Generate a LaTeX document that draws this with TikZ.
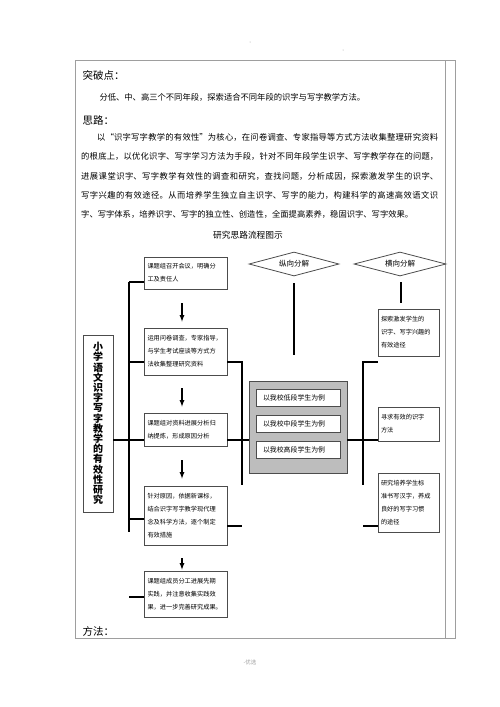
\documentclass[tikz,border=0pt]{standalone}
\usepackage{fontspec}
\setmainfont{Noto Sans CJK SC}
\usetikzlibrary{arrows}
\usetikzlibrary{shapes.geometric}
\usetikzlibrary{positioning}
\definecolor{mframe}{rgb}{0.62, 0.62, 0.62}
\definecolor{mline}{rgb}{0.3, 0.3, 0.3}
\definecolor{mfill}{rgb}{0.74, 0.74, 0.74}
\XeTeXlinebreaklocale "zh"
\XeTeXlinebreakskip=0pt plus 2pt
\tikzset{
  stepbox/.style={draw=mline, line width=0.8pt, text width=76pt, inner xsep=3.5pt, inner ysep=0pt, align=left, font=\fontsize{6.2}{13}\selectfont},
  sidebox/.style={draw=mline, line width=0.8pt, text width=55pt, inner xsep=3pt, inner ysep=0pt, align=left, font=\fontsize{6.2}{13}\selectfont},
  casebox/.style={draw=mline, line width=0.8pt, fill=white, minimum height=17pt, text width=70pt, inner xsep=7pt, inner ysep=0pt, align=left, font=\fontsize{6.9}{8}\selectfont},
  splitnode/.style={diamond, draw=mline, line width=0.8pt, aspect=3.75, inner sep=0pt, font=\fontsize{7.5}{8}\selectfont},
  link/.style={line width=1.3pt},
  flow/.style={-latex, line width=1.2pt},
  heading/.style={anchor=west, font=\fontsize{10.5}{12}\selectfont}
}

\begin{document}
\begin{tikzpicture}[x=1pt, y=-1pt]
  \useasboundingbox (0, 0) rectangle (500, 707);

  % page frame
  \draw [mframe, line width=0.9pt] (75, 60) rectangle (455, 638);
  \draw [mframe, line width=0.9pt] (445.5, 60) -- (445.5, 638);
  \fill [mframe] (250, 42) circle (0.5);
  \fill [mframe] (343, 50) circle (0.5);

  % text above the chart
  \node [heading] (tupo) at (79, 75) {突破点：};
  \node [anchor=west, font=\fontsize{8.3}{10}\selectfont] (tupotext) at (96, 97) {分低、中、高三个不同年段，探索适合不同年段的识字与写字教学方法。};
  \node [heading] (silu) at (79, 120) {思路：};
  \node [anchor=north west, inner sep=0pt, text width=357pt, align=justify, font=\fontsize{8.3}{19.4}\selectfont] (silutext) at (81, 133)
    {\parfillskip=0pt\hspace*{16pt}以“识字写字教学的有效性”为核心，在问卷调查、专家指导等方式方法收集整理研究资料\linebreak
     的根底上，以优化识字、写字学习方法为手段，针对不同年段学生识字、写字教学存在的问题，\linebreak
     进展课堂识字、写字教学有效性的调查和研究，查找问题，分析成因，探索激发学生的识字、\linebreak
     写字兴趣的有效途径。从而培养学生独立自主识字、写字的能力，构建科学的高速高效语文识\linebreak
     字、写字体系，培养识字、写字的独立性、创造性，全面提高素养，稳固识字、写字效果。};
  \node [font=\fontsize{8.7}{10}\selectfont] (title) at (248, 235) {研究思路流程图示};

  % left column
  \node [draw=mline, line width=0.8pt, minimum width=30pt, minimum height=177pt, text width=11pt, inner sep=0pt, align=center, font=\fontsize{10}{10.2}\selectfont\bfseries] (topic) at (98, 423.5)
    {小\\学\\语\\文\\识\\字\\写\\字\\教\\学\\的\\有\\效\\性\\研\\究};
  \node [stepbox, minimum height=32pt] (b1) at (185.5, 273) {课题组召开会议，明确分\\工及责任人};
  \node [stepbox, minimum height=47pt] (b2) at (185.5, 351.5) {运用问卷调查，专家指导，\\与学生考试座谈等方式方\\法收集整理研究资料};
  \node [stepbox, minimum height=33pt] (b3) at (185.5, 429.5) {课题组对资料进展分析归\\纳提炼，形成原因分析};
  \node [stepbox, minimum height=59pt] (b4) at (185.5, 515.5) {针对原因，依据新课标，\\结合识字写字教学现代理\\念及科学方法，逐个制定\\有效措施};
  \node [stepbox, minimum height=46pt] (b5) at (185.5, 594) {课题组成员分工进展先期\\实践，并注意收集实践效\\果，进一步完善研究成果。};

  \draw [flow] ([xshift=-3.5pt, yshift=-14pt]b1.south) -- ([xshift=-3.5pt, yshift=6pt]b2.north);
  \draw [flow] ([xshift=-3.5pt, yshift=-13pt]b2.south) -- ([xshift=-3.5pt, yshift=6pt]b3.north);
  \draw [flow] ([xshift=-3.5pt, yshift=-14pt]b3.south) -- ([xshift=-3.5pt, yshift=7pt]b4.north);
  \draw [flow] ([xshift=-3.5pt, yshift=-13pt]b4.south) -- ([xshift=-3.5pt, yshift=1pt]b5.north);

  % spine
  \coordinate (sTop) at (129, 282);
  \coordinate (sBot) at (129, 532);
  \coordinate (j2) at (129, 362);
  \coordinate (j3) at (113, 440);
  \coordinate (j4) at (129, 519);
  \coordinate (j5) at (129, 597);
  \draw [link] (sTop) -- (sBot);
  \draw [link] (sTop) -- (sTop -| b1.west);
  \draw [link] (j2) -- (j2 -| b2.west);
  \draw [link] (j3) -- (j3 -| b3.west);
  \draw [link] (j4) -- (j4 -| b4.west);
  \draw [link] (j5) -- (j5 -| b5.west);

  % middle column
  \node [splitnode, minimum width=90pt, minimum height=24pt] (d1) at (294, 264) {纵向分解};
  \node [splitnode, minimum width=92pt, minimum height=24pt] (d2) at (400, 264) {横向分解};
  \node [draw=mline, line width=0.8pt, fill=mfill, minimum width=98pt, minimum height=92pt, inner sep=0pt] (grp) at (298, 427) {};
  \node [casebox] (low) at (298, 397.5) {以我校低段学生为例};
  \node [casebox] (mid) at (298, 424) {以我校中段学生为例};
  \node [casebox] (high) at (298, 450) {以我校高段学生为例};

  \coordinate (d1s) at (294, 283);
  \coordinate (d1e) at (294, 355);
  \draw [link] (d1s) -- (d1e);

  \coordinate (r2) at (242, 362);
  \coordinate (rBot) at (242, 485);
  \coordinate (r3) at (242, 440);
  \coordinate (r4) at (242, 526);
  \draw [link] (b2.east |- r2) -- (r2) -- (rBot);
  \draw [link] (b3.east |- r3) -- (r3 -| grp.west);
  \draw [link] (b4.east |- r4) -- (r4);

  % right column
  \node [sidebox, minimum height=47pt] (h1) at (408.5, 332.5) {探索激发学生的\\识字、写字兴趣的\\有效途径};
  \node [sidebox, minimum height=34pt] (h2) at (408.5, 424) {寻求有效的识字\\方法};
  \node [sidebox, minimum height=59pt] (h3) at (408.5, 502.5) {研究培养学生标\\准书写汉字，养成\\良好的写字习惯\\的途径};

  \coordinate (d2s) at (401, 282);
  \coordinate (d2e) at (401, 303);
  \draw [link] (d2s) -- (d2e);

  \coordinate (q1) at (363, 362);
  \coordinate (qBot) at (363, 485);
  \coordinate (q4) at (363, 526);
  \draw [link] (q1 -| h1.west) -- (q1) -- (qBot);
  \draw [link] (grp.east |- r3) -- (r3 -| h2.west);
  \draw [link] (q4) -- (q4 -| h3.west);

  % bottom
  \node [heading] (fangfa) at (79, 631) {方法：};
  \node [mframe, font=\fontsize{5.5}{6}\selectfont] (foot) at (250, 662) {-优选};
\end{tikzpicture}
\end{document}
